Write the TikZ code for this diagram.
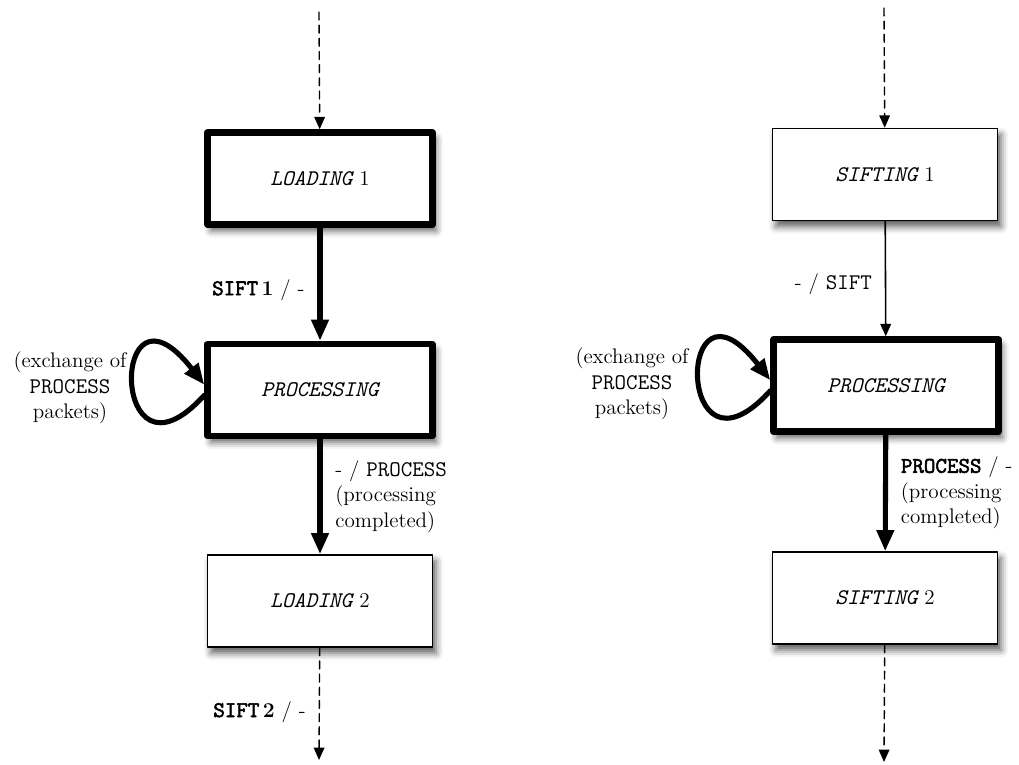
\documentclass[tikz,border=0pt]{standalone}
\usepackage{fontspec}
\setmonofont{Latin Modern Mono}[Scale=1.06]
\newfontfamily\ttheavy{Latin Modern Mono}[Scale=1.06,FakeBold=2.5]
\usetikzlibrary{arrows.meta,shadows.blur}

\begin{document}
\begin{tikzpicture}[line cap=round,line join=round,x=0.02cm,y=-0.02cm,
    font=\fontsize{12}{14.5}\selectfont,
    state/.style={draw,fill=white,minimum width=4.5cm,minimum height=1.84cm,
        blur shadow={shadow xshift=2pt,shadow yshift=-3.5pt,shadow blur radius=4pt,shadow opacity=65}},
    busy/.style={state,line width=3.7pt},
    idle/.style={state,line width=0.9pt},
    heavy/.style={line width=2.9pt,-{Triangle[length=12pt,width=9.5pt]}},
    light/.style={line width=0.9pt,-{Triangle[length=7pt,width=6pt]}},
    hidden/.style={line width=0.8pt,dash pattern=on 4.5pt off 3pt,-{Triangle[length=7pt,width=6pt]}}]
    \useasboundingbox (0,0) rectangle (1019,765);
    % left: loading side
    \coordinate (la) at (319,12);
    \node[busy] (l1) at (320,178.5) {{\ttfamily\itshape LOADING} 1};
    \node[busy] (pl) at (320,390) {{\ttfamily\itshape PROCESSING}};
    \node[idle] (l2) at (320,601) {{\ttfamily\itshape LOADING} 2};
    \coordinate (lb) at (319,760);
    \draw[hidden] (la) -- (l1);
    \draw[heavy] (l1) -- node[pos=0.55,left=4pt] {{\ttheavy SIFT}\,\textbf{1} / -} (pl);
    \draw[heavy] (pl) -- node[right=4pt,align=left] {- / {\ttfamily PROCESS}\\(processing\\completed)} (l2);
    \draw[hidden] (l2) -- node[pos=0.57,left=4pt] {{\ttheavy SIFT}\,\textbf{2} / -} (lb);
    \draw[heavy] ([yshift=-3pt]pl.west) .. controls +(-95,105) and +(-95,-122) .. ([yshift=3pt]pl.west);
    \node[align=center] (xl) at (70,388) {(exchange of\\{\ttfamily PROCESS}\\packets)};
    % right: sifting side
    \coordinate (ra) at (884,8);
    \node[idle] (s1) at (885,174.5) {{\ttfamily\itshape SIFTING} 1};
    \node[busy] (pr) at (886,385.5) {{\ttfamily\itshape PROCESSING}};
    \node[idle] (s2) at (885,598) {{\ttfamily\itshape SIFTING} 2};
    \coordinate (rb) at (884,762);
    \draw[hidden] (ra) -- (s1);
    \draw[light] (s1) -- node[pos=0.55,left=4pt] {- / {\ttfamily SIFT}} (pr);
    \draw[heavy] (pr) -- node[right=4pt,align=left] {{\ttheavy PROCESS} / -\\(processing\\completed)} (s2);
    \draw[hidden] (s2) -- (rb);
    \draw[heavy] ([yshift=-3pt]pr.west) .. controls +(-95,105) and +(-95,-122) .. ([yshift=3pt]pr.west);
    \node[align=center] (xr) at (632,384) {(exchange of\\{\ttfamily PROCESS}\\packets)};
\end{tikzpicture}
\end{document}
